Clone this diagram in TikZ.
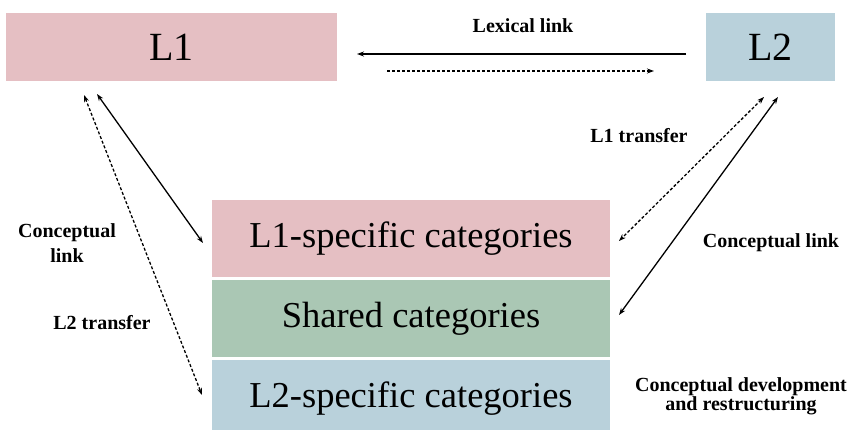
\documentclass[tikz,border=0pt]{standalone}
\usepackage{fontspec}
\setmainfont{Liberation Serif}
\usetikzlibrary{arrows.meta}
\definecolor{pinkbox}{RGB}{229,191,195}
\definecolor{bluebox}{RGB}{185,209,219}
\definecolor{greenbox}{RGB}{170,199,180}
\tikzset{
  langbox/.style={rectangle, inner sep=0pt, font=\fontsize{40}{44}\selectfont},
  catbox/.style={rectangle, inner sep=0pt, minimum width=398pt, minimum height=77pt, font=\fontsize{36.5}{40}\selectfont},
  lbl/.style={font=\bfseries\fontsize{20}{19}\selectfont, align=center},
  conn/.style={line width=1.3pt, {Stealth[length=7pt,width=5pt]}-{Stealth[length=7pt,width=5pt]}},
  oneway/.style={line width=1.3pt, -{Stealth[length=7pt,width=5pt]}},
  dots/.style={dash pattern=on 3pt off 2pt}
}
\begin{document}
\begin{tikzpicture}[x=1pt,y=-1pt]
\useasboundingbox (0,0) rectangle (852,430);

% language boxes
\node[langbox, fill=pinkbox, minimum width=331pt, minimum height=68pt] (L1) at (171.5,47) {L1};
\node[langbox, fill=bluebox, minimum width=129pt, minimum height=68pt] (L2) at (770.5,47) {L2};

% category stack
\node[catbox, fill=pinkbox] (C1) at (411,238.5) {L1-specific categories};
\node[catbox, fill=greenbox] (CS) at (411,318.5) {Shared categories};
\node[catbox, fill=bluebox] (C2) at (411,398.5) {L2-specific categories};

% arrow end points
\coordinate (lexA) at (686,54);
\coordinate (lexB) at (357,54);
\coordinate (lexC) at (387,71);
\coordinate (lexD) at (654,71);
\coordinate (lsA) at (97,94);
\coordinate (lsB) at (203,243);
\coordinate (ldA) at (84,95);
\coordinate (ldB) at (202,395);
\coordinate (rdA) at (764,97);
\coordinate (rdB) at (619,241);
\coordinate (rsA) at (778,97);
\coordinate (rsB) at (619,315);

% lexical link
\draw[oneway] (lexA) -- (lexB);
\draw[oneway, dots] (lexC) -- (lexD);
\node[lbl] (lexlbl) at (523,26) {Lexical link};

% left side
\draw[conn] (lsA) -- (lsB);
\draw[conn, dots] (ldA) -- (ldB);
\node[lbl, font=\bfseries\fontsize{20}{25}\selectfont] (cl1) at (67,243) {Conceptual\\link};
\node[lbl] (l2t) at (102,323) {L2 transfer};

% right side
\draw[conn, dots] (rdA) -- (rdB);
\draw[conn] (rsA) -- (rsB);
\node[lbl] (l1t) at (639,136) {L1 transfer};
\node[lbl] (cl2) at (771,243) {Conceptual link};
\node[lbl] (cdr) at (741,396) {Conceptual development\\and restructuring};
\end{tikzpicture}
\end{document}
